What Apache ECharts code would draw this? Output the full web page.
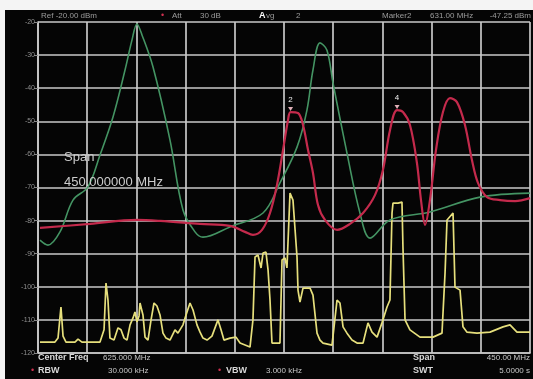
<!DOCTYPE html>
<html>
<head>
<meta charset="utf-8">
<script src="https://cdn.jsdelivr.net/npm/echarts@6/dist/echarts.min.js"></script>
<style>
html,body{margin:0;padding:0;background:#f4f4f4;}
#c{width:533px;height:379px;}
</style>
</head>
<body>
<div id="c"></div>
<script>
// Frequency axis (MHz)
var startFreq = 400, stopFreq = 850, freqDiv = 45;
// Level axis (dBm)
var refLevel = -20, bottomLevel = -120, dbDiv = 10;
var yTickLabels = ['-120','-110','-100','-90','-80','-70','-60','-50','-40','-30','-20'];

// Trace 1 (green)
var greenFreq = [401.8,409.1,420.1,432.0,445.7,456.7,468.6,479.6,486.0,490.5,495.1,505.2,520.7,532.6,543.6,550.9,575.6,605.8,621.3,636.9,646.0,651.5,657.9,664.3,669.8,682.6,694.5,703.7,721.9,758.5,804.3,850];
var greenDbm  = [-85.9,-87.4,-83.4,-73.8,-69.8,-60.2,-48.7,-34.5,-25.4,-20.6,-23.9,-33.6,-55.6,-76.8,-83.4,-85.0,-81.9,-77.7,-68.6,-57.8,-46.6,-34.5,-26.3,-28.5,-38.4,-59.6,-77.7,-85.3,-79.8,-77.4,-72.9,-71.7];

// Trace 2 (red)
var redFreq = [401.8,447.6,490.5,511.6,548.2,575.6,589.3,596.6,604.9,612.2,618.6,624.1,628.7,631.0,637.8,642.4,647.0,651.5,656.1,662.5,673.5,685.4,697.3,708.2,715.5,722.0,728.4,733.8,740.2,746.6,750.3,754.0,758.5,764.0,770.4,776.8,783.2,790.5,796.9,802.4,810.7,822.6,836.3,850];
var redDbm  = [-82.2,-81.0,-79.8,-80.1,-81.0,-81.6,-83.4,-84.3,-82.8,-77.7,-69.2,-58.7,-49.6,-47.2,-47.5,-51.1,-58.7,-65.6,-75.3,-79.8,-82.8,-81.0,-77.7,-72.3,-64.7,-52.6,-46.6,-47.2,-51.1,-62.6,-73.8,-81.3,-73.8,-58.7,-47.2,-43.0,-44.2,-51.1,-61.7,-68.6,-72.9,-73.8,-74.1,-73.2];

// Trace 3 (yellow)
var yellowFreq = [401.8,415.5,418.3,421.0,422.9,425.6,433.8,436.6,440.2,456.7,460.4,462.2,464.0,465.8,469.5,473.2,475.9,478.7,481.4,484.2,486.9,488.7,490.5,492.4,493.3,496.0,497.9,500.6,503.4,506.1,508.8,511.6,514.3,517.1,520.7,525.3,528.0,532.6,535.4,539.0,541.8,545.4,548.2,550.9,554.6,559.1,561.9,564.6,567.4,570.1,575.6,581.1,584.8,593.9,596.6,598.5,601.2,604.0,605.8,608.5,610.4,612.2,614.0,621.3,623.2,625.9,627.7,630.5,633.2,636.9,637.8,639.6,642.4,648.8,651.5,655.2,657.9,660.7,668.9,673.5,676.2,679.0,682.6,687.2,691.8,697.3,701.8,705.5,710.1,714.6,719.2,721.9,723.8,724.7,729.3,732.9,733.8,735.7,740.2,749.4,761.3,769.5,772.3,774.1,779.6,781.4,786.0,788.7,792.4,801.5,813.4,825.3,831.7,838.1,850];
var yellowDbm  = [-116.7,-116.7,-115.5,-106.1,-114.9,-116.7,-116.7,-115.8,-116.7,-116.7,-113.0,-98.9,-104.0,-115.5,-116.1,-112.4,-113.0,-115.5,-116.1,-111.5,-109.4,-107.6,-110.6,-108.8,-104.9,-108.5,-115.2,-116.1,-110.0,-104.9,-105.8,-108.5,-114.0,-115.5,-116.1,-113.0,-114.0,-111.5,-108.5,-104.9,-107.0,-111.5,-113.7,-115.5,-116.1,-114.9,-112.4,-110.0,-113.0,-116.1,-115.5,-115.2,-117.0,-118.2,-110.0,-91.0,-90.4,-94.3,-89.8,-89.5,-94.9,-104.0,-117.0,-117.0,-91.9,-91.3,-94.3,-71.7,-73.8,-91.0,-101.0,-104.6,-100.4,-100.4,-102.5,-114.0,-116.1,-117.0,-117.6,-104.0,-104.9,-112.1,-114.0,-116.1,-117.0,-117.0,-110.9,-113.7,-115.2,-110.9,-106.1,-104.0,-77.7,-74.7,-74.7,-74.4,-88.0,-110.0,-113.0,-115.2,-115.2,-114.0,-95.8,-79.8,-77.7,-100.1,-101.0,-112.1,-113.7,-114.0,-113.7,-112.1,-111.5,-113.7,-113.7];

// Markers (index into red trace)
var markerNames = ['2','4'];
var markerIdx = [13, 26];

function pairs(fs, vs){ return fs.map(function(f,i){ return [f - startFreq, vs[i]]; }); }

var chart = echarts.init(document.getElementById('c'), null, {renderer:'canvas'});
var grey = '#9c9c9c';
var txt = function(x,y,s,opt){
  opt = opt || {};
  return {type:'text', x:x, y:y, z:10, style:{text:s, fill:opt.fill||grey, font:(opt.bold?'bold ':'')+(opt.size||8)+'px "Liberation Sans", Arial, sans-serif', textAlign:opt.align||'left', textVerticalAlign:'middle'}};
};

var option = {
  backgroundColor: '#f4f4f4',
  animation: false,
  grid: {left:38, right:3, top:22, bottom:26, containLabel:false},
  xAxis: {
    type:'value', min:0, max:stopFreq-startFreq, interval:freqDiv,
    axisLabel:{show:false}, axisTick:{show:false},
    axisLine:{show:true, lineStyle:{color:'#c8c8c8', width:1.7}},
    splitLine:{show:true, lineStyle:{color:'#c8c8c8', width:1.7}}
  },
  yAxis: {
    type:'value', min:bottomLevel, max:refLevel, interval:dbDiv,
    axisLine:{show:true, lineStyle:{color:'#c8c8c8', width:1.7}},
    axisTick:{show:true, length:4, lineStyle:{color:'#888'}},
    axisLabel:{color:'#8f8f8f', fontSize:7, margin:3,
      formatter:function(v){ var i = Math.round((v-bottomLevel)/dbDiv); return yTickLabels[i]; }},
    splitLine:{show:true, lineStyle:{color:'#c8c8c8', width:1.7}}
  },
  graphic: [
    {type:'rect', shape:{x:5, y:10, width:528, height:369}, style:{fill:'#050505'}, z:-10},
    txt(41,16,'Ref -20.00 dBm'),
    txt(161,16,'\u2022',{fill:'#d03050',size:9}),
    txt(172,16,'Att'),
    txt(200,16,'30 dB'),
    txt(259,16,'A',{fill:'#ffffff',bold:true,size:9}),
    txt(266,16,'vg'),
    txt(296,16,'2'),
    txt(382,16,'Marker2'),
    txt(430,16,'631.00 MHz'),
    txt(531,16,'-47.25 dBm',{align:'right'}),
    txt(64,157,'Span',{fill:'#cccccc',size:13}),
    txt(64,182,'450.000000 MHz',{fill:'#cccccc',size:13}),
    txt(38,358,'Center Freq',{fill:'#d8d8d8',bold:true,size:9}),
    txt(103,358,'625.000 MHz',{fill:'#c8c8c8',size:8}),
    txt(31,371,'\u2022',{fill:'#d03050',size:9}),
    txt(38,371,'RBW',{fill:'#d8d8d8',bold:true,size:9}),
    txt(108,371,'30.000 kHz',{fill:'#c8c8c8',size:8}),
    txt(218,371,'\u2022',{fill:'#d03050',size:9}),
    txt(226,371,'VBW',{fill:'#d8d8d8',bold:true,size:9}),
    txt(266,371,'3.000 kHz',{fill:'#c8c8c8',size:8}),
    txt(413,358,'Span',{fill:'#d8d8d8',bold:true,size:9}),
    txt(530,358,'450.00 MHz',{fill:'#c8c8c8',size:8,align:'right'}),
    txt(413,371,'SWT',{fill:'#d8d8d8',bold:true,size:9}),
    txt(530,371,'5.0000 s',{fill:'#c8c8c8',size:8,align:'right'})
  ],
  series: [
    {type:'line', name:'Trace3', data:pairs(yellowFreq, yellowDbm), showSymbol:false, smooth:false,
     lineStyle:{color:'#e6df7c', width:1.7}, z:3},
    {type:'line', name:'Trace1', data:pairs(greenFreq, greenDbm), showSymbol:false, smooth:0.35,
     lineStyle:{color:'#449463', width:1.6}, z:4},
    {type:'line', name:'Trace2', data:pairs(redFreq, redDbm), showSymbol:false, smooth:0.35,
     lineStyle:{color:'#c42a4c', width:2.2}, z:5,
     markPoint:{
       symbol:'triangle', symbolSize:[5,4], symbolRotate:180, symbolOffset:[0,-3],
       itemStyle:{color:'#e0b0b8'},
       label:{show:true, position:'top', distance:3, color:'#f0f0f0', fontSize:8,
         formatter:function(p){ return p.name; }},
       data: markerIdx.map(function(i,k){ return {name:markerNames[k], coord:[redFreq[i]-startFreq, redDbm[i]]}; })
     }}
  ]
};
chart.setOption(option);
</script>
</body>
</html>
